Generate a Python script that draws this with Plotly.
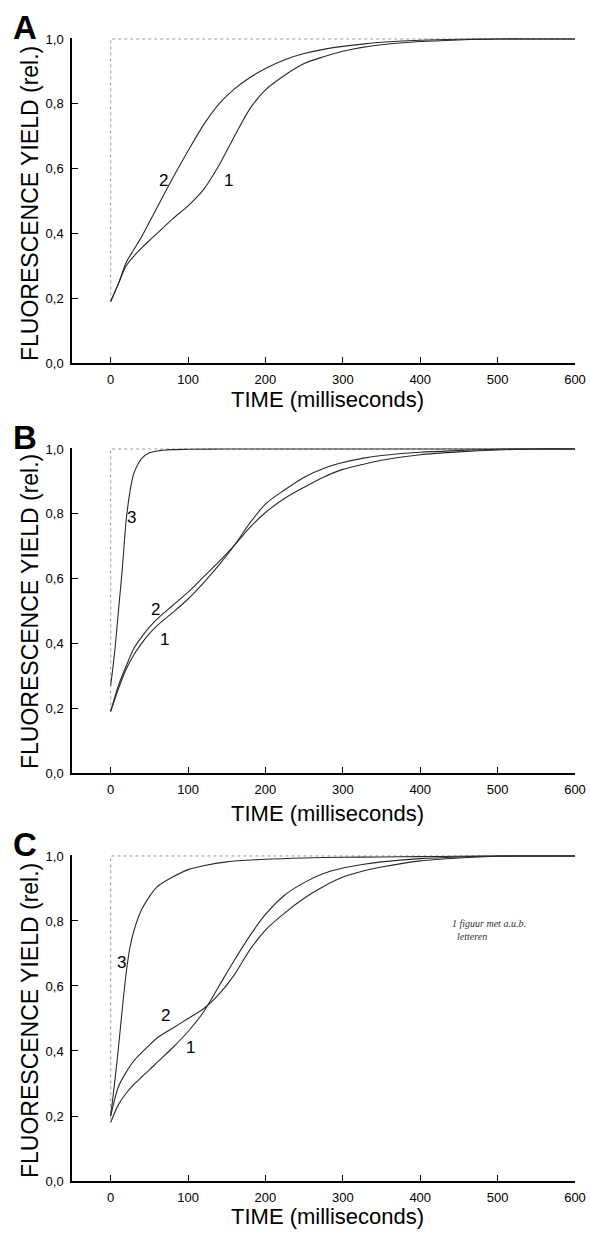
import plotly.graph_objects as go

# ---------------- data ----------------
x_a = [0, 10, 20, 30, 40, 50, 60, 80, 100, 120, 140, 160, 180, 200, 225, 250, 275, 300, 325, 350, 400, 450, 500, 550, 600]
a_curve1 = [0.19, 0.245, 0.30, 0.33, 0.355, 0.378, 0.40, 0.445, 0.485, 0.535, 0.61, 0.70, 0.785, 0.843, 0.888, 0.924, 0.945, 0.962, 0.974, 0.982, 0.992, 0.997, 1.0, 1.0, 1.0]
a_curve2 = [0.19, 0.245, 0.31, 0.35, 0.39, 0.435, 0.48, 0.57, 0.655, 0.735, 0.80, 0.846, 0.881, 0.909, 0.936, 0.955, 0.968, 0.977, 0.984, 0.99, 0.996, 0.999, 1.0, 1.0, 1.0]

x_b = [0, 10, 20, 30, 40, 50, 60, 80, 100, 120, 140, 160, 180, 200, 225, 250, 275, 300, 325, 350, 400, 450, 500, 550, 600]
b_curve1 = [0.19, 0.26, 0.32, 0.365, 0.40, 0.43, 0.455, 0.495, 0.537, 0.587, 0.642, 0.703, 0.772, 0.83, 0.874, 0.913, 0.94, 0.958, 0.971, 0.98, 0.99, 0.995, 0.999, 1.0, 1.0]
b_curve2 = [0.19, 0.27, 0.33, 0.385, 0.42, 0.45, 0.475, 0.517, 0.558, 0.605, 0.652, 0.703, 0.758, 0.804, 0.848, 0.882, 0.913, 0.937, 0.952, 0.965, 0.982, 0.991, 0.997, 1.0, 1.0]
x_b3 = [0, 5, 10, 15, 20, 25, 30, 40, 50, 60, 80, 100, 150, 200, 300, 400, 500, 600]
b_curve3 = [0.27, 0.37, 0.50, 0.63, 0.78, 0.87, 0.925, 0.97, 0.988, 0.994, 0.998, 0.999, 1.0, 1.0, 1.0, 1.0, 1.0, 1.0]

x_c = [0, 10, 20, 30, 40, 50, 60, 80, 100, 120, 140, 160, 180, 200, 225, 250, 275, 300, 325, 350, 400, 450, 500, 550, 600]
c_curve1 = [0.18, 0.235, 0.27, 0.297, 0.32, 0.342, 0.365, 0.41, 0.46, 0.52, 0.60, 0.68, 0.755, 0.82, 0.88, 0.918, 0.946, 0.963, 0.974, 0.982, 0.992, 0.997, 1.0, 1.0, 1.0]
c_curve2 = [0.20, 0.29, 0.335, 0.37, 0.395, 0.418, 0.44, 0.47, 0.50, 0.53, 0.575, 0.635, 0.712, 0.772, 0.825, 0.87, 0.906, 0.935, 0.953, 0.966, 0.985, 0.994, 0.999, 1.0, 1.0]
x_c3 = [0, 5, 10, 15, 20, 25, 30, 40, 50, 60, 80, 100, 120, 150, 200, 250, 300, 350, 400, 450, 500, 600]
c_curve3 = [0.20, 0.30, 0.41, 0.53, 0.64, 0.72, 0.77, 0.835, 0.875, 0.905, 0.935, 0.958, 0.97, 0.982, 0.99, 0.994, 0.996, 0.997, 0.998, 0.999, 1.0, 1.0]

# dotted reference (flash) line: vertical at t=0 then level 1,0
ref_x = [0, 0, 600]
ref_y_a = [0.19, 1.0, 1.0]
ref_y_b = [0.19, 1.0, 1.0]
ref_y_c = [0.19, 1.0, 1.0]

x_ticks = [0, 100, 200, 300, 400, 500, 600]
y_ticks = [0.0, 0.2, 0.4, 0.6, 0.8, 1.0]
y_ticktext = ["0,0", "0,2", "0,4", "0,6", "0,8", "1,0"]

panel_letters = ["A", "B", "C"]
x_title = "TIME (milliseconds)"
y_title = "FLUORESCENCE YIELD (rel.)"

# curve labels: (panel, text, x, y)
curve_labels = [
    (1, "2", 67.7, 0.563), (1, "1", 151.8, 0.563),
    (2, "3", 26.7, 0.787), (2, "2", 58.2, 0.504), (2, "1", 69.0, 0.411),
    (3, "3", 13.4, 0.673), (3, "2", 70.4, 0.509), (3, "1", 103.2, 0.412),
]
handwriting = "1 figuur met a.u.b.<br>  letteren"

# ---------------- figure ----------------
W, H = 590, 1234
ML, MT = 72, 38
MR = W - 575
MB = H - 1181
PH = H - MT - MB
PW = W - ML - MR

def py(Y):
    return 1 - (Y - MT) / PH

def px(X):
    return (X - ML) / PW

FONT = "Liberation Sans, Arial, sans-serif"
curve_color = "#2a2a2a"

fig = go.Figure()

panels = [
    (1, [(x_a, a_curve1), (x_a, a_curve2)], ref_y_a),
    (2, [(x_b, b_curve1), (x_b, b_curve2), (x_b3, b_curve3)], ref_y_b),
    (3, [(x_c, c_curve1), (x_c, c_curve2), (x_c3, c_curve3)], ref_y_c),
]

for idx, curves, ref_y in panels:
    xa = "x" if idx == 1 else f"x{idx}"
    ya = "y" if idx == 1 else f"y{idx}"
    fig.add_trace(go.Scatter(x=ref_x, y=ref_y, mode="lines", xaxis=xa, yaxis=ya,
                             line=dict(color="#9a9a9a", width=1, dash="dot"),
                             showlegend=False, hoverinfo="skip"))
    for xs, ys in curves:
        fig.add_trace(go.Scatter(x=xs, y=ys, mode="lines", xaxis=xa, yaxis=ya,
                                 line=dict(color=curve_color, width=1.1, shape="spline", smoothing=0.8),
                                 showlegend=False, hoverinfo="skip"))

# domains (pixel based)
doms = [(363, 38), (773, 448), (1181, 855)]
layout = dict(width=W, height=H, margin=dict(l=ML, r=MR, t=MT, b=MB, autoexpand=False),
              paper_bgcolor="white", plot_bgcolor="white", showlegend=False)

for i, (bot, top) in enumerate(doms, start=1):
    sfx = "" if i == 1 else str(i)
    layout["xaxis" + sfx] = dict(
        domain=[0, 1], anchor="y" + sfx, range=[-50, 600],
        tickvals=x_ticks, ticktext=[str(v) for v in x_ticks],
        ticks="inside", ticklen=6, tickwidth=1.2, tickcolor="black",
        showline=True, linecolor="black", linewidth=1.5,
        showgrid=False, zeroline=False,
        tickfont=dict(family=FONT, size=13, color="black"), ticklabelstandoff=4,
    )
    layout["yaxis" + sfx] = dict(
        domain=[max(0, py(bot)), min(1, py(top))], anchor="x" + sfx, range=[0, 1.003],
        tickvals=y_ticks, ticktext=y_ticktext,
        ticks="inside", ticklen=6, tickwidth=1.2, tickcolor="black",
        showline=True, linecolor="black", linewidth=1.5,
        showgrid=False, zeroline=False,
        tickfont=dict(family=FONT, size=13, color="black"), ticklabelstandoff=4,
    )

annotations = []
letter_y = [28, 438, 844]
xtitle_y = [399, 813, 1216]
ytitle_y = [204, 612, 1021]
for i in range(3):
    annotations.append(dict(text=f"<b>{panel_letters[i]}</b>", xref="paper", yref="paper",
                            x=px(11), y=py(letter_y[i]), xanchor="left", yanchor="middle",
                            showarrow=False, font=dict(family=FONT, size=33, color="black")))
    annotations.append(dict(text=x_title, xref="paper", yref="paper",
                            x=px(327), y=py(xtitle_y[i]), xanchor="center", yanchor="middle",
                            showarrow=False, font=dict(family=FONT, size=22, color="black")))
    annotations.append(dict(text=y_title, xref="paper", yref="paper",
                            x=px(30), y=py(ytitle_y[i]), xanchor="center", yanchor="middle",
                            textangle=-90, showarrow=False,
                            font=dict(family=FONT, size=23, color="black")))

for p, t, lx, ly in curve_labels:
    sfx = "" if p == 1 else str(p)
    annotations.append(dict(text=t, xref="x" + sfx, yref="y" + sfx, x=lx, y=ly,
                            xanchor="center", yanchor="middle", showarrow=False,
                            font=dict(family=FONT, size=17, color="black")))

annotations.append(dict(text=f"<i>{handwriting}</i>", xref="paper", yref="paper",
                        x=px(450), y=py(930), xanchor="left", yanchor="middle", align="left",
                        showarrow=False, font=dict(family="Liberation Serif, serif", size=10, color="#333")))

layout["annotations"] = annotations
fig.update_layout(**layout)
fig.write_html("out.html", config={"displayModeBar": False},
               post_script="document.body.style.margin='0';document.body.style.overflow='hidden';")
